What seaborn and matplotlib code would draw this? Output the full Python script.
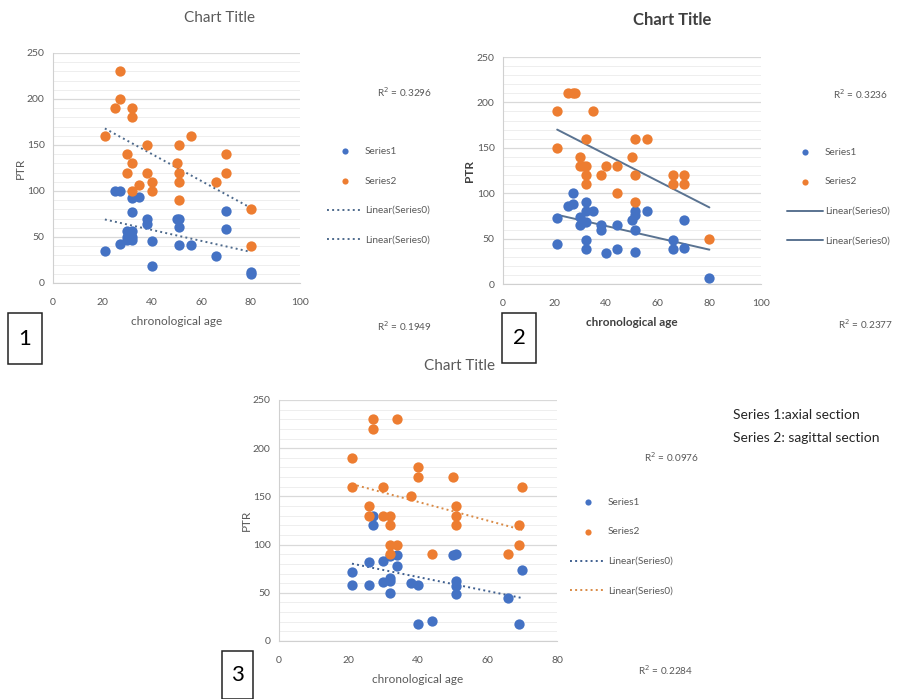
import numpy as np
import matplotlib.pyplot as plt
from matplotlib.patches import Rectangle
from matplotlib.ticker import MultipleLocator
import seaborn as sns

sns.set_style("white")
plt.rcParams['font.family'] = ['Lato', 'DejaVu Sans']

BLUE = '#4472c4'
ORANGE = '#ed7d31'
GREY = '#595959'

# chart 1 : (age, PTR)
age1_s1 = [21, 25, 27, 27, 30, 30, 30, 31, 32, 32, 32, 32, 32, 35, 38, 38, 40, 40,
           50, 51, 51, 51, 56, 66, 70, 70, 80, 80]
ptr1_s1 = [35, 100, 100, 42, 57, 50, 47, 53, 57, 50, 47, 92, 77, 94, 70, 64, 46, 18,
           70, 70, 61, 41, 41, 29, 78, 59, 12, 10]
age1_s2 = [21, 25, 27, 27, 32, 32, 30, 32, 30, 32, 35, 38, 38, 40, 40, 50, 51, 51,
           51, 51, 56, 66, 70, 70, 80, 80]
ptr1_s2 = [160, 190, 230, 200, 190, 180, 140, 130, 120, 100, 107, 150, 120, 110, 100, 130, 150, 120,
           110, 90, 160, 110, 140, 120, 80, 40]

# chart 2
age2_s1 = [21, 21, 25, 27, 27, 30, 30, 31, 32, 32, 32, 32, 32, 35, 38, 38, 40, 44,
           44, 50, 51, 51, 51, 51, 56, 66, 66, 70, 70, 80]
ptr2_s1 = [73, 44, 86, 88, 100, 74, 65, 68, 90, 80, 68, 48, 39, 80, 65, 60, 34, 65,
           38, 70, 80, 76, 59, 35, 80, 48, 38, 70, 40, 7]
age2_s2 = [21, 21, 25, 27, 28, 30, 30, 31, 32, 32, 32, 32, 35, 38, 40, 44, 44, 50,
           51, 51, 51, 56, 66, 66, 70, 70, 80]
ptr2_s2 = [190, 150, 210, 210, 210, 140, 130, 130, 160, 130, 120, 110, 190, 120, 130, 130, 100, 140,
           160, 120, 90, 160, 120, 110, 120, 110, 50]

# chart 3
age3_s1 = [21, 21, 26, 26, 27, 27, 30, 30, 32, 32, 32, 32, 34, 34, 38, 40, 40, 44,
           50, 51, 51, 51, 51, 66, 69, 70]
ptr3_s1 = [72, 58, 82, 58, 130, 120, 83, 61, 88, 65, 62, 50, 89, 78, 60, 58, 18, 21,
           89, 90, 62, 57, 49, 45, 18, 74]
age3_s2 = [21, 21, 26, 26, 27, 27, 30, 30, 32, 32, 32, 32, 34, 34, 38, 40, 40, 44,
           50, 51, 51, 51, 66, 69, 69, 70]
ptr3_s2 = [190, 160, 140, 130, 230, 220, 160, 130, 130, 120, 100, 90, 230, 100, 150, 180, 170, 90,
           170, 140, 130, 120, 90, 120, 100, 160]

r2_text = [("R$^2$ = 0.3296", "R$^2$ = 0.1949"),
           ("R$^2$ = 0.3236", "R$^2$ = 0.2377"),
           ("R$^2$ = 0.0976", "R$^2$ = 0.2284")]

W, H = 898, 699
fig = plt.figure(figsize=(W / 100, H / 100), dpi=100)


def fx(x):
    return x / W


def fy(y):
    return 1 - y / H


def axes_px(left, top, right, bottom):
    return fig.add_axes([fx(left), fy(bottom), (right - left) / W, (bottom - top) / H])


def panel(ax, x1, y1, x2, y2, xmax, tcol1, tcol2, tls, bold):
    sns.scatterplot(x=x1, y=y1, ax=ax, color=BLUE, s=55, linewidth=0, label="Series1", zorder=3)
    sns.scatterplot(x=x2, y=y2, ax=ax, color=ORANGE, s=55, linewidth=0, label="Series2", zorder=3)
    sns.regplot(x=np.array(x1), y=np.array(y1), ax=ax, scatter=False, ci=None, color=tcol1,
                line_kws=dict(linestyle=tls, linewidth=1.4), label="Linear(Series0)")
    sns.regplot(x=np.array(x2), y=np.array(y2), ax=ax, scatter=False, ci=None, color=tcol2,
                line_kws=dict(linestyle=tls, linewidth=1.4), label="Linear(Series0)")
    ax.set_xlim(0, xmax)
    ax.set_ylim(0, 250)
    ax.set_xticks(np.arange(0, xmax + 1, 20))
    ax.set_yticks(np.arange(0, 251, 50))
    ax.yaxis.set_minor_locator(MultipleLocator(10))
    ax.grid(which='major', axis='y', color='#d9d9d9', linewidth=0.9)
    ax.grid(which='minor', axis='y', color='#eeeeee', linewidth=0.7)
    ax.set_axisbelow(True)
    for s in ['top', 'right']:
        ax.spines[s].set_visible(False)
    for s in ['left', 'bottom']:
        ax.spines[s].set_color('#d0d0d0')
    ax.tick_params(axis='both', which='major', labelsize=7.5, colors=GREY, length=3,
                   color='#c8c8c8', pad=3)
    ax.tick_params(axis='x', which='major', pad=8)
    ax.tick_params(axis='both', which='minor', length=0)
    w = 'bold' if bold else 'normal'
    col = '#404040' if bold else GREY
    ax.set_xlabel("chronological age", fontsize=8.5, color=col, fontweight=w, labelpad=6)
    ax.set_ylabel("PTR", fontsize=8.5, color=col, fontweight=w, labelpad=1)
    ax.legend().remove()


def legend_at(ax, x, y):
    h, l = ax.get_legend_handles_labels()
    fig.legend(h, l, loc='upper left', bbox_to_anchor=(fx(x), fy(y)), frameon=False,
               fontsize=7.2, labelcolor=GREY, handlelength=3.6, handletextpad=0.2,
               labelspacing=2.05, markerscale=0.6, borderaxespad=0, borderpad=0)


# chart 1
ax1 = axes_px(53, 53, 300, 283)
panel(ax1, age1_s1, ptr1_s1, age1_s2, ptr1_s2, 100, '#4e6a8c', '#4e6a8c', ':', False)
legend_at(ax1, 327, 147)
fig.text(fx(220), fy(18), "Chart Title", ha='center', va='center', fontsize=11, color=GREY)
fig.text(fx(404), fy(92), r2_text[0][0], ha='center', va='center', fontsize=7.2, color=GREY)
fig.text(fx(404), fy(326), r2_text[0][1], ha='center', va='center', fontsize=7.2, color=GREY)

# chart 2
ax2 = axes_px(503, 57, 761, 284)
panel(ax2, age2_s1, ptr2_s1, age2_s2, ptr2_s2, 100, '#5a7391', '#5a7391', '-', True)
legend_at(ax2, 787, 148)
fig.text(fx(672), fy(20), "Chart Title", ha='center', va='center', fontsize=12,
         color='#404040', fontweight='bold')
fig.text(fx(860), fy(94), r2_text[1][0], ha='center', va='center', fontsize=7.2, color=GREY)
fig.text(fx(866), fy(324), r2_text[1][1], ha='center', va='center', fontsize=7.2, color=GREY)

# chart 3
ax3 = axes_px(279, 400, 557, 641)
panel(ax3, age3_s1, ptr3_s1, age3_s2, ptr3_s2, 80, '#3f5f8f', '#d98a45', ':', False)
legend_at(ax3, 570, 498)
fig.text(fx(460), fy(366), "Chart Title", ha='center', va='center', fontsize=11, color=GREY)
fig.text(fx(671), fy(457), r2_text[2][0], ha='center', va='center', fontsize=7.2, color=GREY)
fig.text(fx(666), fy(670), r2_text[2][1], ha='center', va='center', fontsize=7.2, color=GREY)

fig.text(fx(733), fy(415), "Series 1:axial section", ha='left', va='center', fontsize=10,
         color='#262626')
fig.text(fx(733), fy(438), "Series 2: sagittal section", ha='left', va='center', fontsize=10,
         color='#262626')

# numbered boxes
for num, (l, t, r, b) in zip(["1", "2", "3"], [(8, 313, 42, 364), (502, 313, 536, 363),
                                               (222, 651, 253, 699)]):
    fig.patches.append(Rectangle((fx(l), fy(b)), (r - l) / W, (b - t) / H,
                                 transform=fig.transFigure, fill=False, ec='#222222', lw=1.1))
    fig.text(fx((l + r) / 2), fy((t + b) / 2), num, ha='center', va='center', fontsize=16,
             color='black')

fig.savefig("out.png", dpi=100)
